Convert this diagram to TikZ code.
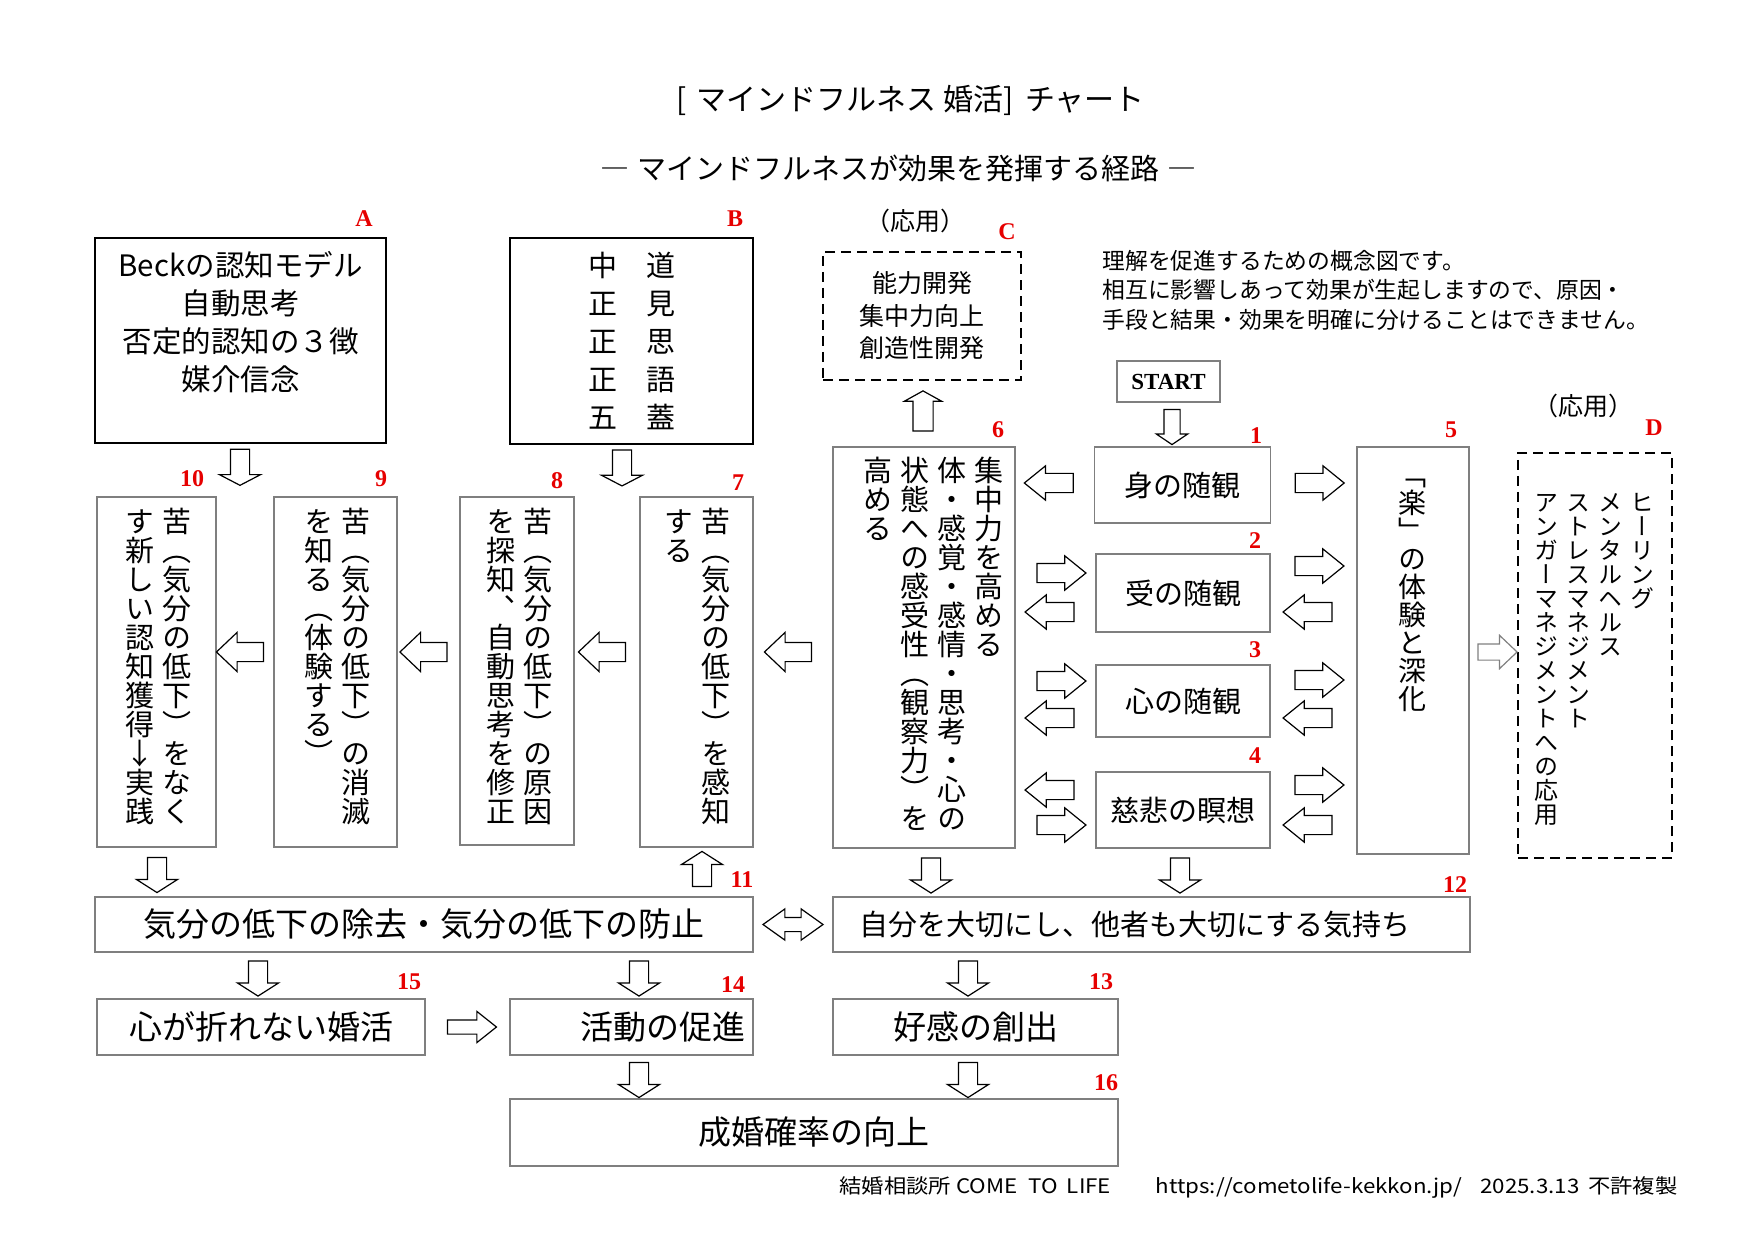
\documentclass[tikz,border=0pt]{standalone}
\usepackage{fontspec}
\usepackage{graphicx}
\setmainfont{Noto Sans CJK JP}
\newfontfamily\tate{Noto Sans CJK JP}[RawFeature={vertical;+vert}]
\newfontfamily\tnr{Liberation Serif}
\usetikzlibrary{shapes.arrows,positioning,calc}
\definecolor{boxgray}{HTML}{7F7F7F}
\definecolor{numred}{HTML}{E60000}

\begin{document}
\begin{tikzpicture}[x=0.5pt, y=-0.5pt,
    hbox/.style={draw=boxgray, line width=0.9pt, inner sep=0pt, align=center},
    obox/.style={hbox, minimum width=87pt, font=\fontsize{14.5pt}{14.5pt}\selectfont},
    lbox/.style={hbox, minimum height=28pt, font=\fontsize{16.5pt}{16.5pt}\selectfont},
    kbox/.style={draw=black, line width=1pt, inner sep=0pt},
    dbox/.style={draw=black, line width=1.3pt, dash pattern=on 5pt off 3pt, inner sep=0pt, align=center},
    vtext/.style={rotate=-90, align=left, inner sep=0pt, font=\tate\fontsize{14.5pt}{18.5pt}\selectfont},
    num/.style={text=numred, inner sep=0pt, font=\tnr\bfseries\fontsize{12pt}{12pt}\selectfont},
    blk/.style={single arrow, draw=black, fill=white, line width=0.6pt, inner sep=0pt, text depth=0pt, pos=0.5, sloped, allow upside down},
    rowarr/.style={blk, text height=9pt, single arrow head extend=5pt, single arrow tip angle=87, minimum height=23.5pt},
    colarr/.style={blk, text height=9pt, single arrow head extend=3.75pt, single arrow tip angle=78, minimum height=24.5pt},
    downarr/.style={blk, text height=9pt, single arrow head extend=5.5pt, single arrow tip angle=115, minimum height=17.5pt}
]
\useasboundingbox (0,0) rectangle (1754,1240);

% titles and note
\node[font=\fontsize{15pt}{15pt}\selectfont] (title) at (910.5,100) {[\hspace{5pt}マインドフルネス 婚活]\hspace{6pt}チャート};
\node[font=\fontsize{14.5pt}{14.5pt}\selectfont] (subtitle) at (898.5,168) {―\hspace{4pt}マインドフルネスが効果を発揮する経路\hspace{4pt}―};
\node[font=\fontsize{11.4pt}{14.75pt}\selectfont, align=left, anchor=west, inner sep=0pt] (note) at (1102,290) {理解を促進するための概念図です。\\相互に影響しあって効果が生起しますので、原因・\\手段と結果・効果を明確に分けることはできません。};

% upper boxes
\node[kbox, minimum width=145.5pt, minimum height=102.5pt] (bA) at (240.5,340.5) {};
\node[font=\fontsize{14.75pt}{19pt}\selectfont, align=center] (tA) at (240.5,322) {Beckの認知モデル\\自動思考\\否定的認知の３徴\\媒介信念};
\node[kbox, minimum width=121.5pt, minimum height=103pt] (bB) at (631.5,341) {};
\node[font=\fontsize{14.5pt}{19pt}\selectfont, align=center] (tB) at (632,341) {中　道\\正　見\\正　思\\正　語\\五　蓋};
\node[font=\fontsize{12.5pt}{12.5pt}\selectfont] (oC) at (915,221) {（応用）};
\node[dbox, minimum width=99pt, minimum height=64pt, font=\fontsize{12.5pt}{16.25pt}\selectfont] (bC) at (922,316) {能力開発\\集中力向上\\創造性開発};
\node[hbox, line width=0.6pt, minimum width=51.5pt, minimum height=20.5pt, font=\tnr\bfseries\fontsize{11.5pt}{11.5pt}\selectfont] (start) at (1168.5,381.5) {START};

% middle column
\node[obox, minimum width=88pt, minimum height=38pt] (b1) at (1182.5,485) {身の随観};
\node[obox, minimum height=39pt] (b2) at (1183,593) {受の随観};
\node[obox, minimum height=36pt] (b3) at (1183,701) {心の随観};
\node[obox, minimum height=38pt] (b4) at (1183,810) {慈悲の瞑想};

% vertical boxes
\node[hbox, minimum width=56pt, minimum height=203.5pt] (b5) at (1413,650.5) {};
\node[vtext, text width=190pt, font=\tate\fontsize{14pt}{18pt}\selectfont] (t5) at ([xshift=5pt]b5.center) {「楽」の体験と深化};
\node[hbox, minimum width=91pt, minimum height=200.5pt] (b6) at (924,647.5) {};
\node[vtext, text width=191.5pt] (t6) at ([xshift=10.5pt]b6.center) {集中力を高める\\体・感覚・感情・思考・心の\\状態への感受性（観察力）を\\高める};
\node[font=\fontsize{12.5pt}{12.5pt}\selectfont] (oD) at (1583,406) {（応用）};
\node[dbox, minimum width=77pt, minimum height=202.5pt] (bD) at (1595,655.5) {};
\node[vtext, text width=165.5pt, font=\tate\fontsize{12pt}{16pt}\selectfont] (tD) at ([xshift=4pt]bD.center) {ヒーリング\\メンタルヘルス\\ストレスマネジメント\\アンガーマネジメントへの応用};
\node[hbox, minimum width=56.5pt, minimum height=175pt] (b7) at (696.5,672) {};
\node[vtext, text width=165pt] (t7) at ([xshift=6.5pt]b7.center) {苦（気分の低下）を感知\\する};
\node[hbox, minimum width=57pt, minimum height=174pt] (b8) at (517,671) {};
\node[vtext, text width=164pt] (t8) at ([xshift=6.5pt]b8.center) {苦（気分の低下）の原因\\を探知、自動思考を修正};
\node[hbox, minimum width=61.5pt, minimum height=175pt] (b9) at (335.5,672) {};
\node[vtext, text width=165pt] (t9) at ([xshift=6.5pt]b9.center) {苦（気分の低下）の消滅\\を知る（体験する）};
\node[hbox, minimum width=59.5pt, minimum height=175pt] (b10) at (156.5,672) {};
\node[vtext, text width=165pt] (t10) at ([xshift=6.5pt]b10.center) {苦（気分の低下）をなく\\す新しい認知獲得↓実践};

% lower boxes
\node[lbox, minimum width=329pt, minimum height=27.5pt] (b11) at (424,924.5) {気分の低下の除去・気分の低下の防止};
\node[lbox, minimum width=318.5pt, minimum height=27.5pt, text width=292.5pt, inner xsep=13pt, align=left, font=\fontsize{14.5pt}{14.5pt}\selectfont] (b12) at (1151.5,924.5) {自分を大切にし、他者も大切にする気持ち};
\node[lbox, minimum width=164pt] (b15) at (261,1027) {心が折れない婚活};
\node[lbox, minimum width=121.5pt, text width=113.5pt, inner xsep=4pt, align=right] (b14) at (631.5,1027) {活動の促進};
\node[lbox, minimum width=142.5pt] (b13) at (975.5,1027) {好感の創出};
\node[lbox, minimum width=304pt, minimum height=33.5pt] (b16) at (814,1132.5) {成婚確率の向上};

% numbers
\node[num] (nA) at (364,219) {A};
\node[num] (nB) at (735,219) {B};
\node[num] (nC) at (1007,232) {C};
\node[num] (nD) at (1654,428) {D};
\node[num] (n1) at (1256,436) {1};
\node[num] (n2) at (1255,541) {2};
\node[num] (n3) at (1255,650) {3};
\node[num] (n4) at (1255,756) {4};
\node[num] (n5) at (1451,430) {5};
\node[num] (n6) at (998,430) {6};
\node[num] (n7) at (738,483) {7};
\node[num] (n8) at (557,481) {8};
\node[num] (n9) at (381,479) {9};
\node[num] (n10) at (192,479) {10};
\node[num] (n11) at (742,880) {11};
\node[num] (n12) at (1455,885) {12};
\node[num] (n13) at (1101,982) {13};
\node[num] (n14) at (733,985) {14};
\node[num] (n15) at (409,982) {15};
\node[num] (n16) at (1106,1083) {16};

% arrows along the row
\path (b9.west |- 0,652) -- (b10.east |- 0,652) node[rowarr] {};
\path (b8.west |- 0,652) -- (b9.east |- 0,652) node[rowarr] {};
\path (b7.west |- 0,652) -- (b8.east |- 0,652) node[rowarr] {};
\path (b6.west |- 0,652) -- (b7.east |- 0,652) node[rowarr] {};
% arrows around 1-4
\path (b1.west |- 0,483) -- (b6.east |- 0,483) node[colarr] {};
\path (b6.east |- 0,573) -- (b2.west |- 0,573) node[colarr] {};
\path (b2.west |- 0,612) -- (b6.east |- 0,612) node[colarr] {};
\path (b6.east |- 0,681) -- (b3.west |- 0,681) node[colarr] {};
\path (b3.west |- 0,718) -- (b6.east |- 0,718) node[colarr] {};
\path (b4.west |- 0,790) -- (b6.east |- 0,790) node[colarr] {};
\path (b6.east |- 0,825) -- (b4.west |- 0,825) node[colarr] {};
\path (b1.east |- 0,483) -- (b5.west |- 0,483) node[colarr] {};
\path (b2.east |- 0,566) -- (b5.west |- 0,566) node[colarr] {};
\path (b5.west |- 0,612) -- (b2.east |- 0,612) node[colarr] {};
\path (b3.east |- 0,680) -- (b5.west |- 0,680) node[colarr] {};
\path (b5.west |- 0,718) -- (b3.east |- 0,718) node[colarr] {};
\path (b4.east |- 0,785) -- (b5.west |- 0,785) node[colarr] {};
\path (b5.west |- 0,825) -- (b4.east |- 0,825) node[colarr] {};
\path (b5.east |- 0,652) -- (bD.west |- 0,652) node[blk, text height=7.5pt, single arrow head extend=4.25pt, single arrow tip angle=87, minimum height=19.5pt, draw=gray] {};
% vertical arrows
\path (bA.south -| 240,0) -- (b10.north -| 240,0) node[downarr, pos=0.4, single arrow tip angle=125, minimum height=18pt] {};
\path (bB.south -| 622,0) -- (b8.north -| 622,0) node[downarr, pos=0.4, single arrow tip angle=125, minimum height=18pt] {};
\path (start.south -| 1172,0) -- (b1.north -| 1172,0) node[blk, text height=7.5pt, single arrow head extend=3.75pt, single arrow tip angle=112, minimum height=17.5pt] {};
\path (b6.north -| 923,0) -- (bC.south -| 923,0) node[downarr, text height=9.5pt, single arrow head extend=4.25pt, single arrow tip angle=122, minimum height=20pt] {};
\path (b10.south -| 157,0) -- (b11.north -| 157,0) node[downarr] {};
\path (b11.north -| 702,0) -- (b7.south -| 702,0) node[downarr] {};
\path (b6.south -| 931,0) -- (b12.north -| 931,0) node[downarr] {};
\path (b4.south -| 1180,0) -- (b12.north -| 1180,0) node[downarr] {};
\path (b11.south -| 258,0) -- (b15.north -| 258,0) node[downarr] {};
\path (b11.south -| 639,0) -- (b14.north -| 639,0) node[downarr] {};
\path (b12.south -| 968,0) -- (b13.north -| 968,0) node[downarr] {};
\path (b14.south -| 639,0) -- (b16.north -| 639,0) node[downarr] {};
\path (b13.south -| 968,0) -- (b16.north -| 968,0) node[downarr] {};
\path (b15.east) -- (b14.west) node[blk, text height=6.5pt, single arrow head extend=4.25pt, single arrow tip angle=77, minimum height=24.5pt] {};
\path (b11.east) -- (b12.west) node[blk, double arrow, text height=6.5pt, double arrow head extend=4.25pt, double arrow tip angle=71, minimum height=30pt] {};

% footer
\node[anchor=east, inner sep=0pt] (foot) at (1678,1187) {\resizebox{419pt}{\height}{\fontsize{10pt}{10pt}\selectfont 結婚相談所 COME\hspace{5pt}TO\hspace{4pt}LIFE\hspace{20pt}https://cometolife-kekkon.jp/\hspace{8pt}2025.3.13\hspace{4pt}不許複製}};
\end{tikzpicture}
\end{document}
